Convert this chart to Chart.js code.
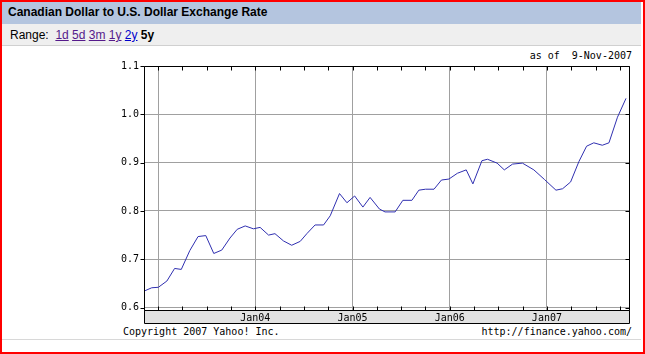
<!DOCTYPE html>
<html>
<head>
<meta charset="utf-8">
<script src="https://cdn.jsdelivr.net/npm/chart.js@4.4.0/dist/chart.umd.min.js"></script>
<style>
  body { margin:0; width:645px; height:354px; overflow:hidden; background:#fff; position:relative;
         font-family:"Liberation Sans", Arial, sans-serif; }
  #frame { position:absolute; left:0; top:0; width:641px; height:350px; border:2px solid #f00; }
  #head { position:absolute; left:2px; top:2px; width:639px; height:22px; background:#b4c5df;
          font-weight:bold; font-size:12px; line-height:21px; text-indent:6px; color:#000; }
  #range { position:absolute; left:2px; top:24px; width:639px; height:21px; background:#efefef;
           border-bottom:1px solid #d0d0d0; font-size:12px; line-height:22px; text-indent:8px; }
  #range a { color:#551a8b; text-decoration:underline; }
  #range a.cur { color:#0000cc; }
  #range b { color:#000; }
  #line { position:absolute; left:2px; top:339px; width:639px; height:1px; background:#d8d8d8; }
  .mono { position:absolute; font-family:"DejaVu Sans Mono", monospace; font-size:10px; line-height:12px;
          white-space:pre; color:#000; }
  canvas { position:absolute; left:0; top:0; }
</style>
</head>
<body>
<div id="frame"></div>
<div id="head">Canadian Dollar to U.S. Dollar Exchange Rate</div>
<div id="range">Range:&nbsp; <a>1d</a> <a>5d</a> <a>3m</a> <a>1y</a> <a class="cur">2y</a> <b>5y</b></div>
<div id="line"></div>
<div class="mono" style="right:13px; top:50px;">as of  9-Nov-2007</div>
<div class="mono" style="left:123px; top:326px;">Copyright 2007 Yahoo! Inc.</div>
<div class="mono" style="right:13px; top:326px;">http://finance.yahoo.com/</div>
<canvas id="chart" width="645" height="354"></canvas>
<script>
const dates = [
  "2002-11-13","2002-12-08","2003-01-02","2003-02-03","2003-03-04","2003-03-29","2003-04-30","2003-05-31",
  "2003-06-29","2003-07-29","2003-08-28","2003-09-28","2003-10-25","2003-11-24","2003-12-25",
  "2004-01-19","2004-02-20","2004-03-15","2004-04-16","2004-05-17","2004-06-18","2004-07-13","2004-08-13",
  "2004-09-14","2004-10-09","2004-11-13","2004-12-11",
  "2005-01-09","2005-02-09","2005-03-08","2005-04-12","2005-05-03","2005-06-10","2005-07-09","2005-08-12",
  "2005-09-07","2005-10-02","2005-11-03","2005-12-01","2005-12-29",
  "2006-01-30","2006-03-04","2006-03-29","2006-05-02","2006-05-23","2006-06-28","2006-07-25","2006-08-25",
  "2006-10-01","2006-11-13","2006-12-23",
  "2007-02-04","2007-03-01","2007-03-31","2007-05-01","2007-05-30","2007-06-26","2007-07-28","2007-08-22",
  "2007-09-23","2007-10-25"
];
const rates = [
  0.635,0.641,0.642,0.655,0.681,0.679,0.718,0.747,
  0.749,0.712,0.719,0.744,0.762,0.769,0.763,
  0.766,0.750,0.753,0.738,0.729,0.737,0.753,0.771,
  0.771,0.790,0.836,0.817,
  0.831,0.808,0.828,0.804,0.798,0.798,0.822,0.822,
  0.843,0.845,0.845,0.864,0.866,
  0.878,0.885,0.856,0.904,0.907,0.899,0.885,0.897,
  0.899,0.885,0.865,
  0.843,0.846,0.860,0.902,0.934,0.941,0.936,0.941,
  0.994,1.033
];
const yTicks = [0.6, 0.7, 0.8, 0.9, 1.0, 1.1];
const yearTicks = [2003, 2004, 2005, 2006, 2007];
const yearLabels = ["", "Jan04", "Jan05", "Jan06", "Jan07"];
const rangeStart = "2002-11-09";
const rangeEnd = "2007-11-09";

// date string -> fractional year
function toYear(s) {
  const [y, m, d] = s.split("-").map(Number);
  const a = Date.UTC(y, 0, 1), b = Date.UTC(y + 1, 0, 1);
  return y + (Date.UTC(y, m - 1, d) - a) / (b - a);
}

const mono = { family: "DejaVu Sans Mono", size: 10 };

const framePlugin = {
  id: "frame",
  beforeDraw(chart) {
    const { ctx, chartArea: a } = chart;
    ctx.save();
    ctx.fillStyle = "#e2e2e2";
    ctx.fillRect(a.left, a.bottom, a.right - a.left, 13);
    ctx.restore();
  },
  afterDraw(chart) {
    const { ctx, chartArea: a, scales: { x, y } } = chart;
    const L = Math.round(a.left) + 0.5, R = Math.round(a.right) - 0.5;
    const T = Math.round(a.top) + 0.5, B = Math.round(a.bottom) + 0.5;
    ctx.save();
    ctx.strokeStyle = "#000";
    ctx.lineWidth = 1;
    ctx.beginPath();
    ctx.rect(L, T, R - L, B - T);
    ctx.rect(L, B, R - L, 13);
    // quarterly ticks top and bottom
    for (let t = Math.ceil(x.min * 4) / 4; t < x.max; t += 0.25) {
      const px = Math.round(x.getPixelForValue(t)) + 0.5;
      ctx.moveTo(px, T); ctx.lineTo(px, T + 4);
      ctx.moveTo(px, B); ctx.lineTo(px, B - 4);
    }
    yTicks.forEach(v => {
      const py = Math.round(y.getPixelForValue(v)) + 0.5;
      ctx.moveTo(L - 4, py); ctx.lineTo(L, py);
      ctx.moveTo(R - 4, py); ctx.lineTo(R, py);
    });
    ctx.stroke();
    ctx.restore();
  }
};

new Chart(document.getElementById("chart"), {
  type: "line",
  data: {
    datasets: [{
      data: dates.map((d, i) => ({ x: toYear(d), y: rates[i] })),
      borderColor: "#2f2fb0",
      borderWidth: 1,
      pointRadius: 0,
      tension: 0,
      fill: false
    }]
  },
  options: {
    responsive: false,
    animation: false,
    events: [],
    layout: { padding: { left: 0, top: 66, right: 15, bottom: 0 } },
    plugins: { legend: { display: false }, tooltip: { enabled: false } },
    scales: {
      x: {
        type: "linear",
        min: toYear(rangeStart),
        max: toYear(rangeEnd),
        afterBuildTicks: s => { s.ticks = yearTicks.map(v => ({ value: v })); },
        afterFit: s => { s.height = 44; },
        grid: { color: "#a0a0a0", drawTicks: false },
        border: { display: false },
        ticks: {
          font: mono, color: "#000", padding: 2, maxRotation: 0, autoSkip: false,
          callback: (v, i) => yearLabels[i]
        }
      },
      y: {
        min: 0.595,
        max: 1.1,
        afterBuildTicks: s => { s.ticks = yTicks.map(v => ({ value: v })); },
        afterFit: s => { s.width = 144; },
        grid: { color: "#a0a0a0", drawTicks: false },
        border: { display: false },
        ticks: { font: mono, color: "#000", padding: 5, callback: v => v.toFixed(1) }
      }
    }
  },
  plugins: [framePlugin]
});
</script>
</body>
</html>
